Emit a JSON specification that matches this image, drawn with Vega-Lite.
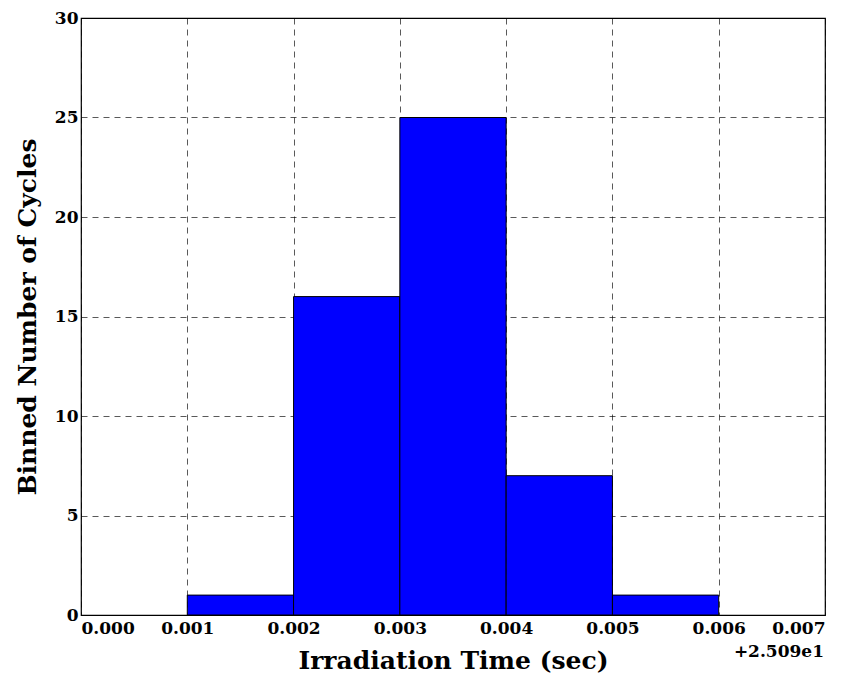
{
  "$schema": "https://vega.github.io/schema/vega-lite/v6.json",
  "width": 744,
  "height": 597,
  "autosize": {"type": "none"},
  "padding": {"left": 81, "top": 18, "right": 30, "bottom": 66},
  "background": "white",
  "config": {
    "font": "DejaVu Serif",
    "view": {"stroke": "black", "strokeWidth": 1.2}
  },
  "layer": [
    {
      "data": {
        "values": [
          {"start": 0.001, "end": 0.002, "count": 1},
          {"start": 0.002, "end": 0.003, "count": 16},
          {"start": 0.003, "end": 0.004, "count": 25},
          {"start": 0.004, "end": 0.005, "count": 7},
          {"start": 0.005, "end": 0.006, "count": 1}
        ]
      },
      "mark": {"type": "bar", "color": "#0000ff", "stroke": "black", "strokeWidth": 1},
      "encoding": {
        "x": {
          "field": "start",
          "type": "quantitative",
          "scale": {"domain": [0, 0.007], "nice": false, "zero": false},
          "axis": {
            "title": "Irradiation Time (sec)",
            "values": [0, 0.001, 0.002, 0.003, 0.004, 0.005, 0.006, 0.007],
            "format": ".3f",
            "grid": true,
            "gridColor": "black",
            "gridOpacity": 0.65,
            "gridDash": [6, 5],
            "gridWidth": 1,
            "ticks": false,
            "domain": false,
            "labelFont": "DejaVu Serif",
            "labelFontWeight": "bold",
            "labelFontSize": 17,
            "labelColor": "black",
            "labelPadding": 5,
            "titleFont": "DejaVu Serif",
            "titleFontWeight": "bold",
            "titleFontSize": 25,
            "titleColor": "black",
            "titlePadding": 12
          }
        },
        "x2": {"field": "end"},
        "y": {
          "field": "count",
          "type": "quantitative",
          "scale": {"domain": [0, 30], "nice": false},
          "axis": {
            "title": "Binned Number of Cycles",
            "values": [0, 5, 10, 15, 20, 25, 30],
            "grid": true,
            "gridColor": "black",
            "gridOpacity": 0.65,
            "gridDash": [6, 5],
            "gridWidth": 1,
            "ticks": false,
            "domain": false,
            "labelFont": "DejaVu Serif",
            "labelFontWeight": "bold",
            "labelFontSize": 17,
            "labelColor": "black",
            "labelPadding": 3,
            "titleFont": "DejaVu Serif",
            "titleFontWeight": "bold",
            "titleFontSize": 25,
            "titleColor": "black",
            "titlePadding": 14
          }
        },
        "y2": {"datum": 0}
      }
    },
    {
      "data": {"values": [{"x": 0.007, "y": 0, "label": "+2.509e1"}]},
      "mark": {
        "type": "text",
        "align": "right",
        "baseline": "top",
        "dy": 29,
        "dx": -1,
        "font": "DejaVu Serif",
        "fontWeight": "bold",
        "fontSize": 17,
        "color": "black"
      },
      "encoding": {
        "x": {"field": "x", "type": "quantitative"},
        "y": {"field": "y", "type": "quantitative"},
        "text": {"field": "label"}
      }
    }
  ]
}
